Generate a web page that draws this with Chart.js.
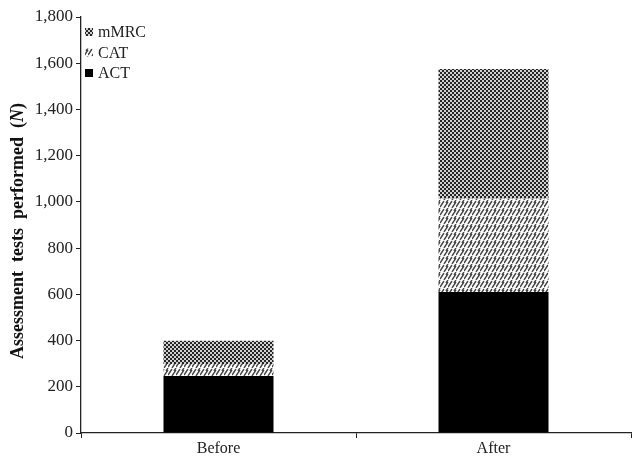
<!DOCTYPE html>
<html>
<head>
<meta charset="utf-8">
<script src="https://cdn.jsdelivr.net/npm/chart.js@4.4.0/dist/chart.umd.min.js"></script>
<style>
    html, body { margin: 0; padding: 0; background: #fff; }
    #wrap { width: 632px; height: 461px; position: relative; }
</style>
</head>
<body>
<div id="wrap"><canvas id="testsChart"></canvas></div>
<script>
const categories = ['Before', 'After'];
const actValues = [247, 610];
const catValues = [52, 405];
const mmrcValues = [100, 560];
const yTicks = [0, 200, 400, 600, 800, 1000, 1200, 1400, 1600, 1800];

const serif = '"Liberation Serif", "Times New Roman", serif';

function makeChecker() {
    const c = document.createElement('canvas');
    c.width = 4; c.height = 4;
    const g = c.getContext('2d');
    g.fillStyle = '#d0d0d0';
    g.fillRect(0, 0, 4, 4);
    g.fillStyle = '#262626';
    g.fillRect(0, 0, 2, 2);
    g.fillRect(2, 2, 2, 2);
    return g.createPattern(c, 'repeat');
}

function makeHatch() {
    // broken diagonal strokes, like the woven hatch of the original
    const c = document.createElement('canvas');
    c.width = 8; c.height = 8;
    const g = c.getContext('2d');
    g.fillStyle = '#fff';
    g.fillRect(0, 0, 8, 8);
    g.strokeStyle = '#444';
    g.lineWidth = 1.4;
    g.beginPath();
    g.moveTo(0, 7); g.lineTo(4, 1);
    g.moveTo(4, 8); g.lineTo(8, 2);
    g.moveTo(-4, 8); g.lineTo(0, 2);
    g.moveTo(6, 3); g.lineTo(8, 0);
    g.moveTo(-2, 3); g.lineTo(0, 0);
    g.stroke();
    return g.createPattern(c, 'repeat');
}

const checker = makeChecker();
const hatch = makeHatch();

// legend drawn inside the plot, top-left, reversed order
const legendPlugin = {
    id: 'innerLegend',
    afterDraw(chart) {
        const ctx = chart.ctx;
        const items = chart.data.datasets.slice().reverse();
        ctx.save();
        ctx.font = '16px ' + serif;
        ctx.textBaseline = 'middle';
        items.forEach((ds, i) => {
            const y = 32 + i * 20.5;
            ctx.fillStyle = ds.backgroundColor;
            ctx.fillRect(85, y - 4, 8, 8);
            ctx.fillStyle = '#222';
            ctx.fillText(ds.label, 98, y + 1);
        });
        ctx.restore();
    }
};

// y-axis title with italic N
const yTitlePlugin = {
    id: 'yTitle',
    afterDraw(chart) {
        const ctx = chart.ctx;
        const area = chart.chartArea;
        const partA = 'Assessment  tests  performed  (';
        const partN = 'N';
        const partB = ')';
        ctx.save();
        const bold = 'bold 18px ' + serif;
        const boldIt = 'italic bold 18px ' + serif;
        ctx.font = bold;
        const wA = ctx.measureText(partA).width;
        const wB = ctx.measureText(partB).width;
        ctx.font = boldIt;
        const wN = ctx.measureText(partN).width;
        const total = wA + wN + wB;
        ctx.translate(18, (area.top + area.bottom) / 2 + 6);
        ctx.rotate(-Math.PI / 2);
        ctx.fillStyle = '#111';
        ctx.textBaseline = 'middle';
        let x = -total / 2;
        ctx.font = bold;
        ctx.fillText(partA, x, 0);
        x += wA;
        ctx.font = boldIt;
        ctx.fillText(partN, x, 0);
        x += wN;
        ctx.font = bold;
        ctx.fillText(partB, x, 0);
        ctx.restore();
    }
};

const ctx = document.getElementById('testsChart').getContext('2d');
new Chart(ctx, {
    type: 'bar',
    data: {
        labels: categories,
        datasets: [
            { label: 'ACT', data: actValues, backgroundColor: '#000', borderWidth: 0 },
            { label: 'CAT', data: catValues, backgroundColor: hatch, borderWidth: 0 },
            { label: 'mMRC', data: mmrcValues, backgroundColor: checker, borderWidth: 0 }
        ]
    },
    options: {
        responsive: true,
        maintainAspectRatio: false,
        animation: false,
        layout: { padding: { top: 17, right: 1, left: 0, bottom: 0 } },
        datasets: { bar: { barPercentage: 0.4, categoryPercentage: 1 } },
        plugins: {
            legend: { display: false },
            tooltip: { enabled: false }
        },
        scales: {
            x: {
                stacked: true,
                afterFit(scale) { scale.height = 28; },
                border: { display: true, color: '#222', width: 1.3 },
                grid: { drawOnChartArea: false, drawTicks: true, tickLength: 5, color: '#222', offset: true },
                ticks: { color: '#222', font: { family: serif, size: 16 }, padding: 1 }
            },
            y: {
                stacked: true,
                min: 0,
                max: 1800,
                afterFit(scale) { scale.width = 81; },
                afterBuildTicks(scale) { scale.ticks = yTicks.map(v => ({ value: v })); },
                border: { display: true, color: '#222', width: 1.3 },
                grid: { drawOnChartArea: false, drawTicks: true, tickLength: 5, color: '#222' },
                ticks: {
                    color: '#222',
                    font: { family: serif, size: 17 },
                    padding: 3,
                    callback: v => v.toLocaleString('en-US')
                }
            }
        }
    },
    plugins: [legendPlugin, yTitlePlugin]
});
</script>
</body>
</html>
